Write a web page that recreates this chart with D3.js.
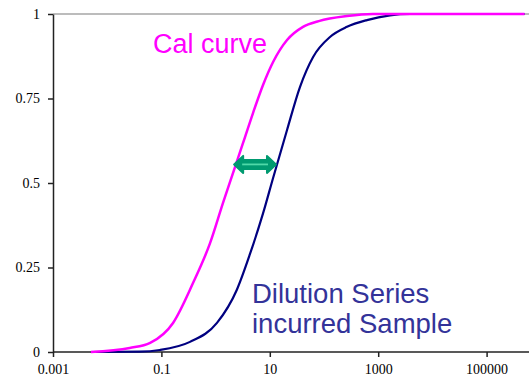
<!DOCTYPE html>
<html>
<head>
<meta charset="utf-8">
<script src="https://cdn.jsdelivr.net/npm/d3@7"></script>
<style>
  body { margin: 0; background: #fff; }
  svg { display: block; }
</style>
</head>
<body>
<div id="graph"></div>
<script>
// values
var calX   = [0.005, 0.026, 0.062, 0.164, 0.383, 0.79, 1.37, 2.28, 3.49, 4.9, 7.5, 11.5, 20.8, 41, 80, 266, 800, 500000];
var calY   = [0, 0.012, 0.027, 0.086, 0.204, 0.322, 0.441, 0.547, 0.636, 0.707, 0.79, 0.858, 0.923, 0.962, 0.979, 0.994, 1, 1];
var dilX   = [0.005, 0.04, 0.094, 0.337, 1.06, 2.48, 4.31, 7.5, 11.5, 20.8, 36, 63, 129, 266, 620, 1650, 3860, 500000];
var dilY   = [0, 0.001, 0.006, 0.03, 0.086, 0.185, 0.29, 0.41, 0.515, 0.657, 0.784, 0.873, 0.932, 0.962, 0.982, 0.996, 1, 1];
var xTicks = [0.001, 0.1, 10, 1000, 100000];
var xTickLabels = ["0.001", "0.1", "10", "1000", "100000"];
var yTicks = [0, 0.25, 0.5, 0.75, 1];
var yTickLabels = ["0", "0.25", "0.5", "0.75", "1"];
var arrowFrom = 2.2, arrowTo = 13, arrowLevel = 0.555;

var W = 529, H = 379;
var svg = d3.select("#graph").append("svg")
    .attr("width", W).attr("height", H);

// log axis, one decade ~54px, cropped on the right
var x = d3.scaleLog().domain([0.001, 1e6]).range([53, 53 + 9 * 54.2]);
var y = d3.scaleLinear().domain([0, 1]).range([352, 14]);

// gray line at 1
svg.append("line")
    .attr("x1", x(0.001)).attr("x2", W)
    .attr("y1", y(1)).attr("y2", y(1))
    .attr("stroke", "#a6a6a6").attr("stroke-width", 1.5);

// x axis
var xAxis = svg.append("g")
    .attr("transform", "translate(0," + y(0) + ")")
    .call(d3.axisBottom(x).tickValues(xTicks)
        .tickFormat(function(d, i) { return xTickLabels[i]; })
        .tickSize(5).tickPadding(7).tickSizeOuter(0));
xAxis.select(".domain").attr("d", "M" + x(0.001) + ",0H" + W);

// y axis
var yAxis = svg.append("g")
    .attr("transform", "translate(" + x(0.001) + ",0)")
    .call(d3.axisLeft(y).tickValues(yTicks)
        .tickFormat(function(d, i) { return yTickLabels[i]; })
        .tickSize(5).tickPadding(8).tickSizeOuter(0));

svg.selectAll(".tick text")
    .style("font-family", "'Liberation Serif', 'Times New Roman', serif")
    .style("font-size", "14px")
    .attr("fill", "#000");
svg.selectAll(".domain, .tick line")
    .attr("stroke", "#222").attr("stroke-width", 1.5);

// curves
var line = d3.line()
    .x(function(d) { return x(d[0]); })
    .y(function(d) { return y(d[1]); })
    .curve(d3.curveMonotoneX);

svg.append("path")
    .datum(dilX.map(function(v, i) { return [v, dilY[i]]; }))
    .attr("d", line)
    .attr("fill", "none").attr("stroke", "#000080").attr("stroke-width", 2.2);

svg.append("path")
    .datum(calX.map(function(v, i) { return [v, calY[i]]; }))
    .attr("d", line)
    .attr("fill", "none").attr("stroke", "#ff00ff").attr("stroke-width", 2.5);

// double arrow between the curves
var ax0 = x(arrowFrom), ax1 = x(arrowTo), ay = y(arrowLevel);
var sh = 4.5, hh = 8.5, hl = 9;
var arrowPath = d3.path();
arrowPath.moveTo(ax0, ay);
arrowPath.lineTo(ax0 + hl, ay - hh);
arrowPath.lineTo(ax0 + hl, ay - sh);
arrowPath.lineTo(ax1 - hl, ay - sh);
arrowPath.lineTo(ax1 - hl, ay - hh);
arrowPath.lineTo(ax1, ay);
arrowPath.lineTo(ax1 - hl, ay + hh);
arrowPath.lineTo(ax1 - hl, ay + sh);
arrowPath.lineTo(ax0 + hl, ay + sh);
arrowPath.lineTo(ax0 + hl, ay + hh);
arrowPath.closePath();
svg.append("path")
    .attr("d", arrowPath.toString())
    .attr("fill", "#009a70").attr("stroke", "#009a70")
    .attr("stroke-width", 2).attr("stroke-linejoin", "round");
svg.append("line")
    .attr("x1", ax0 + hl - 1).attr("x2", ax1 - hl + 1)
    .attr("y1", ay).attr("y2", ay)
    .attr("stroke", "#4fd9a8").attr("stroke-width", 1.8);

// labels
var labelFont = "'Liberation Sans', Arial, sans-serif";
svg.append("text")
    .attr("x", 153).attr("y", 53)
    .style("font-family", labelFont).style("font-size", "27px")
    .attr("fill", "#ff00ff")
    .text("Cal curve");
svg.append("text")
    .attr("x", 252).attr("y", 303)
    .style("font-family", labelFont).style("font-size", "27.5px")
    .attr("fill", "#333399")
    .text("Dilution Series");
svg.append("text")
    .attr("x", 252).attr("y", 333)
    .style("font-family", labelFont).style("font-size", "27.5px")
    .attr("fill", "#333399")
    .text("incurred Sample");
</script>
</body>
</html>
